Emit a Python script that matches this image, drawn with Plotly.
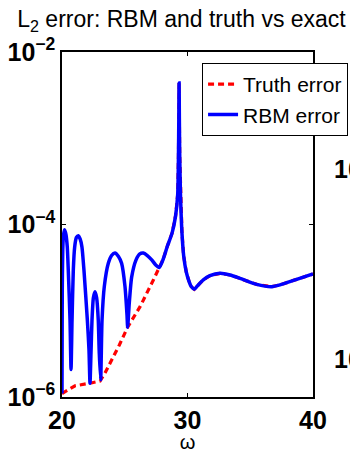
import numpy as np
import plotly.graph_objects as go

# ---- data (omega, log10 of L2 error) ----
rbm_omega = [20.00, 20.02, 20.06, 20.12, 20.21, 20.32, 20.42, 20.50, 20.64, 20.72,
             20.80, 20.90, 21.01, 21.15, 21.30, 21.45, 21.59, 21.75, 22.02, 22.15,
             22.23, 22.31, 22.39, 22.50, 22.63, 22.76, 22.89, 22.97, 23.08, 23.19,
             23.37, 23.69, 23.95, 24.22, 24.50, 24.75, 25.02, 25.18, 25.23, 25.36,
             25.55, 25.90, 26.20, 26.48, 26.80, 27.15, 27.47, 27.75, 28.07, 28.40,
             28.77, 29.05, 29.22, 29.28, 29.31, 29.33, 29.35, 29.38, 29.44, 29.56,
             29.70, 29.90, 30.10, 30.30, 30.54, 30.80, 31.26, 31.79, 32.59, 33.39,
             34.18, 35.51, 36.71, 37.37, 38.70, 40.00]
rbm_log10_err = [-5.96, -4.80, -4.30, -4.12, -4.06, -4.12, -4.26, -4.53, -5.11, -5.68,
                 -5.11, -4.53, -4.26, -4.15, -4.13, -4.17, -4.26, -4.53, -5.11, -5.45,
                 -5.84, -5.49, -5.11, -4.85, -4.78, -4.85, -5.11, -5.49, -5.80, -5.11,
                 -4.72, -4.45, -4.36, -4.33, -4.37, -4.45, -4.72, -5.05, -5.19, -4.91,
                 -4.61, -4.41, -4.34, -4.33, -4.36, -4.41, -4.47, -4.50, -4.40, -4.25,
                 -4.10, -3.90, -3.65, -3.20, -2.75, -2.36, -2.75, -3.20, -3.65, -4.10,
                 -4.37, -4.55, -4.65, -4.72, -4.75, -4.71, -4.643, -4.594, -4.566, -4.586,
                 -4.624, -4.694, -4.721, -4.70, -4.636, -4.574]

truth_omega = [20.00, 21.04, 22.23, 23.03, 23.40, 23.82, 24.57, 25.23, 26.22, 27.28,
               27.75, 28.07, 28.40, 28.77, 29.05, 29.22, 29.28, 29.31, 29.33, 29.35,
               29.38, 29.44, 29.56, 29.70, 29.90, 30.10, 30.30, 30.54, 30.80, 31.26,
               31.79, 32.59, 33.39, 34.18, 35.51, 36.71, 37.37, 38.70, 40.00]
truth_log10_err = [-5.96, -5.87, -5.84, -5.815, -5.73, -5.617, -5.397, -5.19, -4.953, -4.643,
                   -4.50, -4.40, -4.25, -4.10, -3.90, -3.65, -3.20, -2.75, -2.36, -2.75,
                   -3.20, -3.65, -4.10, -4.37, -4.55, -4.65, -4.72, -4.75, -4.71, -4.643,
                   -4.594, -4.566, -4.586, -4.624, -4.694, -4.721, -4.70, -4.636, -4.574]

x_tickvals = [20, 30, 40]
x_ticktext = ["<b>20</b>", "<b>30</b>", "<b>40</b>"]
y_tickvals = [1e-6, 1e-4, 1e-2]
y_ticktext = ["<b>10<sup>\u22126</sup></b>", "<b>10<sup>\u22124</sup></b>", "<b>10<sup>\u22122</sup></b>"]
series_names = ["Truth error", "RBM error"]
title_text = "L<sub>2</sub> error: RBM and truth vs exact"
x_title = "\u03c9"

FONT = "Liberation Sans, Arial, Helvetica, sans-serif"

fig = go.Figure()
fig.add_trace(go.Scatter(
    x=truth_omega, y=10 ** np.array(truth_log10_err), mode="lines",
    name=series_names[0],
    line=dict(color="#ff0000", width=3.2, dash="6px,4px"),
))
fig.add_trace(go.Scatter(
    x=rbm_omega, y=10 ** np.array(rbm_log10_err), mode="lines",
    name=series_names[1],
    line=dict(color="#0000ff", width=3.5, shape="spline", smoothing=0.6),
))

fig.update_layout(
    width=350, height=453,
    margin=dict(l=62, r=37, t=52, b=56, autoexpand=False),
    plot_bgcolor="white", paper_bgcolor="white",
    font=dict(family=FONT, color="black"),
    title=dict(text=title_text, font=dict(size=23, family=FONT, color="black"),
               x=0.5186, xref="container", xanchor="center",
               y=0.975, yref="container", yanchor="top"),
    showlegend=True,
    legend=dict(x=0.558, y=0.968, xref="paper", yref="paper",
                xanchor="left", yanchor="top",
                bordercolor="black", borderwidth=1, bgcolor="white",
                font=dict(size=21, family=FONT), itemwidth=30,
                tracegroupgap=0),
    annotations=[
        dict(text="<b>10</b>", xref="paper", yref="paper", x=1.0757, y=0.661,
             xanchor="left", yanchor="middle", showarrow=False,
             font=dict(size=25, family=FONT)),
        dict(text="<b>10</b>", xref="paper", yref="paper", x=1.0757, y=0.110,
             xanchor="left", yanchor="middle", showarrow=False,
             font=dict(size=25, family=FONT)),
    ],
)
fig.update_xaxes(
    range=[20, 40], tickmode="array", tickvals=x_tickvals, ticktext=x_ticktext,
    ticks="inside", ticklen=4, tickwidth=1, tickcolor="black",
    showline=True, linewidth=1.5, linecolor="black", mirror="ticks",
    showgrid=False, zeroline=False,
    tickfont=dict(size=25, family=FONT),
    title=dict(text=x_title, font=dict(size=20, family=FONT), standoff=7),
)
fig.update_yaxes(
    type="log", range=[-6, -2], tickmode="array", tickvals=y_tickvals, ticktext=y_ticktext,
    ticks="inside", ticklen=4, tickwidth=1, tickcolor="black",
    showline=True, linewidth=1.5, linecolor="black", mirror="ticks",
    showgrid=False, zeroline=False,
    tickfont=dict(size=25, family=FONT),
)

fig.write_html("out.html")
